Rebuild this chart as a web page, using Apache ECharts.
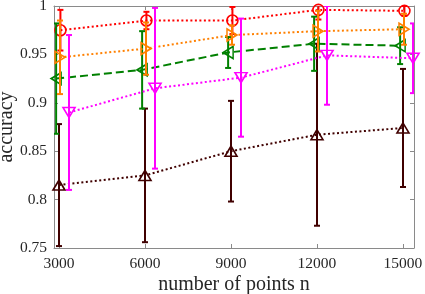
<!DOCTYPE html>
<html><head><meta charset="utf-8">
<script src="https://cdn.jsdelivr.net/npm/echarts@6/dist/echarts.min.js"></script>
<style>html,body{margin:0;padding:0;background:#fff}#c{width:425px;height:294px}</style>
</head><body><div id="c"></div>
<script>
const nValues = [3000, 6000, 9000, 12000, 15000];
const xTicks = [3000, 6000, 9000, 12000, 15000];
const yTicks = [0.75, 0.8, 0.85, 0.9, 0.95, 1];

const redMean = [0.975, 0.985, 0.985, 0.996, 0.995];
const redErr = [0.021, 0.009, 0.014, 0.010, 0.005];
const orangeMean = [0.947, 0.956, 0.970, 0.974, 0.976];
const orangeErr = [0.038, 0.027, 0.010, 0.021, 0.016];
const greenMean = [0.925, 0.934, 0.952, 0.961, 0.959];
const greenErr = [0.057, 0.040, 0.016, 0.028, 0.019];
const magentaMean = [0.890, 0.915, 0.926, 0.949, 0.946];
const magentaErr = [0.080, 0.083, 0.061, 0.051, 0.036];
const brownMean = [0.815, 0.825, 0.850, 0.867, 0.874];
const brownErr = [0.063, 0.069, 0.052, 0.094, 0.061];

const FONT = 'Liberation Serif';
const AX = '#8a8a8a';

const defs = [
  {mean: brownMean, err: brownErr, color: '#400000', shift: 0, symbol: 'triangle', rot: 0, dash: [2, 2.5], z: 1},
  {mean: redMean, err: redErr, color: '#ff0000', shift: 50, symbol: 'circle', rot: 0, dash: [2, 2.5], z: 2},
  {mean: greenMean, err: greenErr, color: '#008000', shift: -100, symbol: 'triangle', rot: 90, dash: [8, 4], z: 3},
  {mean: orangeMean, err: orangeErr, color: '#ff8000', shift: 35, symbol: 'triangle', rot: -90, dash: [2, 2.5], z: 4},
  {mean: magentaMean, err: magentaErr, color: '#ff00ff', shift: 350, symbol: 'triangle', rot: 180, dash: [2, 2.5], z: 5}
];

const series = [];
defs.forEach(d => {
  const pts = nValues.map((n, i) => [n + d.shift, d.mean[i]]);
  const bars = nValues.map((n, i) => [n + d.shift, d.mean[i] - d.err[i], d.mean[i] + d.err[i]]);
  series.push({
    type: 'custom',
    z: d.z * 2,
    clip: true,
    silent: true,
    encode: {x: 0, y: [1, 2]},
    data: bars,
    renderItem: function (params, api) {
      const x = api.value(0);
      const lo = api.coord([x, api.value(1)]);
      const hi = api.coord([x, api.value(2)]);
      const cw = 3;
      const st = {stroke: d.color, lineWidth: 2, fill: null};
      return {
        type: 'group',
        children: [
          {type: 'line', shape: {x1: lo[0], y1: lo[1], x2: hi[0], y2: hi[1]}, style: st},
          {type: 'line', shape: {x1: lo[0] - cw, y1: lo[1], x2: lo[0] + cw, y2: lo[1]}, style: st},
          {type: 'line', shape: {x1: hi[0] - cw, y1: hi[1], x2: hi[0] + cw, y2: hi[1]}, style: st}
        ]
      };
    }
  });
  series.push({
    type: 'line',
    z: d.z * 2 + 1,
    data: pts,
    symbol: d.symbol,
    symbolSize: d.symbol === 'circle' ? 11 : [12, 10],
    symbolRotate: d.rot,
    showAllSymbol: true,
    clip: false,
    silent: true,
    animation: false,
    lineStyle: {color: d.color, width: 2, type: d.dash},
    itemStyle: {color: 'rgba(0,0,0,0)', borderColor: d.color, borderWidth: 1.6}
  });
});

const chart = echarts.init(document.getElementById('c'), null, {renderer: 'canvas'});
chart.setOption({
  animation: false,
  backgroundColor: '#fff',
  grid: {left: 54, right: 11, top: 6, bottom: 46, containLabel: false, outerBoundsMode: 'none'},
  xAxis: [{
    type: 'value', min: 2826, max: 15384,
    name: 'number of points n', nameLocation: 'middle', nameGap: 27, nameMoveOverlap: false,
    nameTextStyle: {fontFamily: FONT, fontSize: 20, color: '#262626'},
    axisLine: {show: true, lineStyle: {color: AX, width: 1}},
    axisTick: {show: true, inside: true, length: 4, customValues: xTicks, lineStyle: {color: AX}},
    axisLabel: {customValues: xTicks, fontFamily: FONT, fontSize: 15.5, color: '#262626', margin: 8,
      formatter: v => String(Math.round(v))},
    splitLine: {show: false}
  }, {
    type: 'value', position: 'top', min: 2826, max: 15384,
    axisLine: {show: true, lineStyle: {color: AX, width: 1}},
    axisTick: {show: true, inside: true, length: 4, customValues: xTicks, lineStyle: {color: AX}},
    axisLabel: {show: false},
    splitLine: {show: false}
  }],
  yAxis: [{
    type: 'value', min: 0.75, max: 1, interval: 0.05,
    name: 'accuracy', nameLocation: 'middle', nameGap: 37, nameMoveOverlap: false,
    nameTextStyle: {fontFamily: FONT, fontSize: 20, color: '#262626'},
    axisLine: {show: true, lineStyle: {color: AX, width: 1}},
    axisTick: {show: true, inside: true, length: 4, lineStyle: {color: AX}},
    axisLabel: {fontFamily: FONT, fontSize: 15.5, color: '#262626', margin: 7,
      formatter: v => String(parseFloat(v.toFixed(2)))},
    splitLine: {show: false}
  }, {
    type: 'value', position: 'right', min: 0.75, max: 1, interval: 0.05,
    axisLine: {show: true, lineStyle: {color: AX, width: 1}},
    axisTick: {show: true, inside: true, length: 4, lineStyle: {color: AX}},
    axisLabel: {show: false},
    splitLine: {show: false}
  }],
  series: series
});
</script>
</body></html>
